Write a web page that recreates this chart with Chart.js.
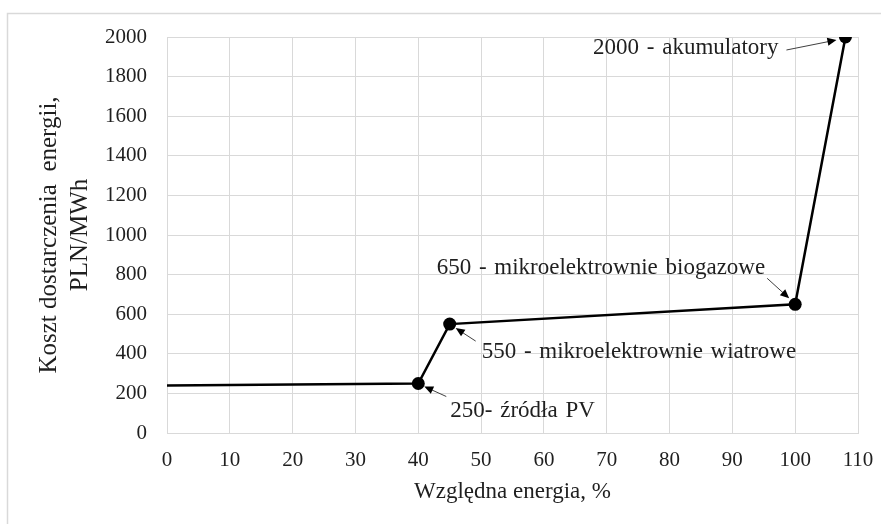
<!DOCTYPE html>
<html>
<head>
<meta charset="utf-8">
<script src="https://cdn.jsdelivr.net/npm/chart.js@4.4.1/dist/chart.umd.min.js"></script>
<style>
    html, body { margin: 0; padding: 0; background: #fff; }
</style>
</head>
<body>
<canvas id="costChart" width="881" height="524"></canvas>
<script>
var energyShare = [0, 40, 45, 100, 108];
var supplyCost = [240, 250, 550, 650, 2000];
var pointLabels = ['', '250- źródła PV', '550 - mikroelektrownie wiatrowe', '650 - mikroelektrownie biogazowe', '2000 - akumulatory'];
var xTickValues = [0, 10, 20, 30, 40, 50, 60, 70, 80, 90, 100, 110];
var yTickValues = [0, 200, 400, 600, 800, 1000, 1200, 1400, 1600, 1800, 2000];

// where each callout sits relative to its point (pixels)
var callouts = [
    null,
    { text: [32, 27], align: 'left', from: [28, 13], to: [6, 3] },
    { text: [32, 28], align: 'left', from: [26, 17], to: [6, 4] },
    { text: [-30, -36], align: 'right', from: [-28, -26], to: [-6, -6] },
    { text: [-67, 11], align: 'right', from: [-59, 13], to: [-9, 3] }
];

var textColor = '#1f1f1f';
var gridColor = '#d9d9d9';

var framePlugin = {
    id: 'frame',
    beforeDraw: function (chart) {
        var ctx = chart.ctx;
        ctx.save();
        ctx.fillStyle = '#fff';
        ctx.fillRect(0, 0, chart.width, chart.height);
        ctx.strokeStyle = gridColor;
        ctx.lineWidth = 1.5;
        ctx.strokeRect(7.5, 13.5, chart.width + 20, chart.height + 20);
        ctx.restore();
    }
};

var calloutPlugin = {
    id: 'callouts',
    afterDatasetsDraw: function (chart) {
        var ctx = chart.ctx;
        var pts = chart.getDatasetMeta(0).data;
        ctx.save();
        ctx.font = '23px "Liberation Serif", "Times New Roman", serif';
        ctx.textBaseline = 'middle';
        ctx.wordSpacing = '2px';
        pointLabels.forEach(function (label, i) {
            var c = callouts[i];
            if (!label || !c) return;
            var px = pts[i].x, py = pts[i].y;
            var x1 = px + c.from[0], y1 = py + c.from[1];
            var x2 = px + c.to[0], y2 = py + c.to[1];
            var ang = Math.atan2(y2 - y1, x2 - x1);
            var headLen = 9, headW = 4;
            ctx.strokeStyle = '#404040';
            ctx.lineWidth = 1;
            ctx.beginPath();
            ctx.moveTo(x1, y1);
            ctx.lineTo(x2 - Math.cos(ang) * headLen * 0.8, y2 - Math.sin(ang) * headLen * 0.8);
            ctx.stroke();
            ctx.fillStyle = '#000';
            ctx.beginPath();
            ctx.moveTo(x2, y2);
            ctx.lineTo(x2 - Math.cos(ang) * headLen - Math.sin(ang) * headW, y2 - Math.sin(ang) * headLen + Math.cos(ang) * headW);
            ctx.lineTo(x2 - Math.cos(ang) * headLen + Math.sin(ang) * headW, y2 - Math.sin(ang) * headLen - Math.cos(ang) * headW);
            ctx.closePath();
            ctx.fill();
            ctx.fillStyle = textColor;
            ctx.textAlign = c.align;
            ctx.fillText(label, px + c.text[0], py + c.text[1]);
        });
        ctx.restore();
    }
};

var ctxCost = document.getElementById('costChart').getContext('2d');
var costChart = new Chart(ctxCost, {
    type: 'scatter',
    data: {
        datasets: [{
            data: energyShare.map(function (x, i) { return { x: x, y: supplyCost[i] }; }),
            showLine: true,
            borderColor: '#000',
            backgroundColor: '#000',
            borderWidth: 2.5,
            pointRadius: function (c) { return c.dataIndex === 0 ? 0 : 6.5; },
            pointBorderWidth: 0,
            tension: 0
        }]
    },
    options: {
        responsive: false,
        animation: false,
        layout: {
            padding: { top: 37, right: 23, bottom: 0, left: 0 }
        },
        plugins: {
            legend: { display: false },
            tooltip: { enabled: false }
        },
        scales: {
            x: {
                type: 'linear',
                min: 0,
                max: 110,
                afterBuildTicks: function (scale) {
                    scale.ticks = xTickValues.map(function (v) { return { value: v }; });
                },
                afterFit: function (scale) {
                    scale.height = 91;
                    scale.paddingLeft = 0;
                    scale.paddingRight = 0;
                },
                grid: { color: gridColor, lineWidth: 1, drawTicks: false },
                border: { color: gridColor },
                ticks: {
                    padding: 15,
                    color: textColor,
                    maxRotation: 0,
                    callback: function (v) { return String(v); },
                    font: { family: '"Liberation Serif"', size: 21 }
                },
                title: {
                    display: true,
                    text: 'Względna energia, %',
                    color: textColor,
                    padding: { top: 0, bottom: 18 },
                    font: { family: '"Liberation Serif"', size: 23, lineHeight: 1.2 }
                }
            },
            y: {
                min: 0,
                max: 2000,
                afterBuildTicks: function (scale) {
                    scale.ticks = yTickValues.map(function (v) { return { value: v }; });
                },
                afterFit: function (scale) {
                    scale.width = 167;
                    scale.paddingTop = 0;
                    scale.paddingBottom = 0;
                },
                grid: { color: gridColor, lineWidth: 1, drawTicks: false },
                border: { color: gridColor },
                ticks: {
                    padding: 20,
                    color: textColor,
                    callback: function (v) { return String(v); },
                    font: { family: '"Liberation Serif"', size: 21 }
                },
                title: {
                    display: true,
                    text: ['Koszt dostarczenia  energii,', 'PLN/MWh'],
                    color: textColor,
                    padding: { top: 34, bottom: 0 },
                    font: { family: '"Liberation Serif"', size: 25, lineHeight: 1.25 }
                }
            }
        }
    },
    plugins: [framePlugin, calloutPlugin]
});
</script>
</body>
</html>
